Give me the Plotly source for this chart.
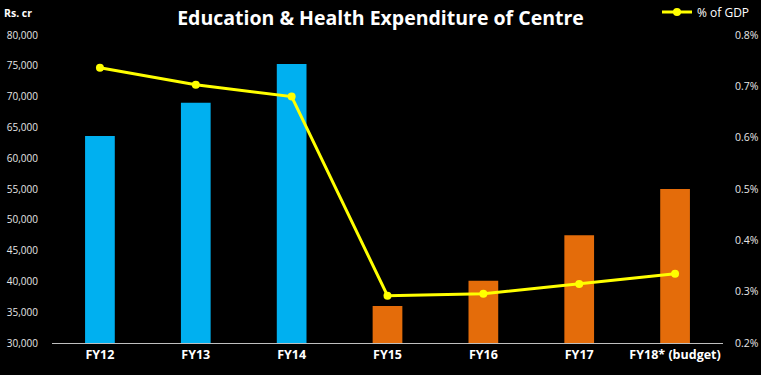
import plotly.graph_objects as go

categories = ["FY12", "FY13", "FY14", "FY15", "FY16", "FY17", "FY18* (budget)"]
expenditure = [63600, 69000, 75300, 36000, 40100, 47500, 55000]
pct_gdp = [0.736, 0.703, 0.680, 0.292, 0.296, 0.315, 0.335]
bar_colors = ["#00B0F0", "#00B0F0", "#00B0F0", "#E46C0A", "#E46C0A", "#E46C0A", "#E46C0A"]
left_ticks = [30000, 35000, 40000, 45000, 50000, 55000, 60000, 65000, 70000, 75000, 80000]
right_ticks = [0.2, 0.3, 0.4, 0.5, 0.6, 0.7, 0.8]

fig = go.Figure()
fig.add_trace(go.Bar(
    x=categories, y=expenditure, marker_color=bar_colors, marker_line_width=0,
    showlegend=False, yaxis="y",
))
fig.add_trace(go.Scatter(
    x=categories, y=pct_gdp, mode="lines+markers", name="% of GDP",
    line=dict(color="#FFFF00", width=3), marker=dict(color="#FFFF00", size=8),
    yaxis="y2",
))

fig.update_layout(
    width=761, height=375,
    paper_bgcolor="black", plot_bgcolor="black",
    margin=dict(l=52, r=38, t=35, b=32, autoexpand=False),
    bargap=0.69,
    font=dict(family="Open Sans, Arial", color="white"),
    title=dict(text="<b>Education & Health Expenditure of Centre</b>", x=0.5, xanchor="center",
               y=0.952, yanchor="middle", font=dict(size=19.5, color="white", family="Open Sans")),
    xaxis=dict(showgrid=False, showline=True, linecolor="#BFBFBF", linewidth=1,
               tickfont=dict(size=12.5, color="white", family="Open Sans"), ticks="",
               tickvals=categories, ticktext=["<b>%s</b>" % c for c in categories]),
    yaxis=dict(range=[30000, 80000], tickvals=left_ticks,
               ticktext=["{:,}".format(v) for v in left_ticks],
               showgrid=False, zeroline=False, tickfont=dict(size=10, color="#E6E6E6"),
               ticks="outside", ticklen=11, tickcolor="black"),
    yaxis2=dict(range=[0.2, 0.8], overlaying="y", side="right", tickvals=right_ticks,
                ticktext=["%.1f%%" % v for v in right_ticks],
                showgrid=False, zeroline=False, tickfont=dict(size=10.5, color="#E6E6E6"),
                ticks="outside", ticklen=9, tickcolor="black"),
    legend=dict(x=1.0477, y=1.075, xanchor="right", yanchor="middle", bgcolor="rgba(0,0,0,0)",
                font=dict(size=12, color="white")),
    annotations=[dict(text="<b>Rs. cr</b>", x=-0.074, y=1.07, xref="paper", yref="paper",
                      xanchor="left", yanchor="middle",
                      showarrow=False, font=dict(size=10.5, color="white"))],
)

fig.write_html(
    "out.html",
    config={"displayModeBar": False},
    post_script="document.body.style.margin='0';document.body.style.background='black';",
)
